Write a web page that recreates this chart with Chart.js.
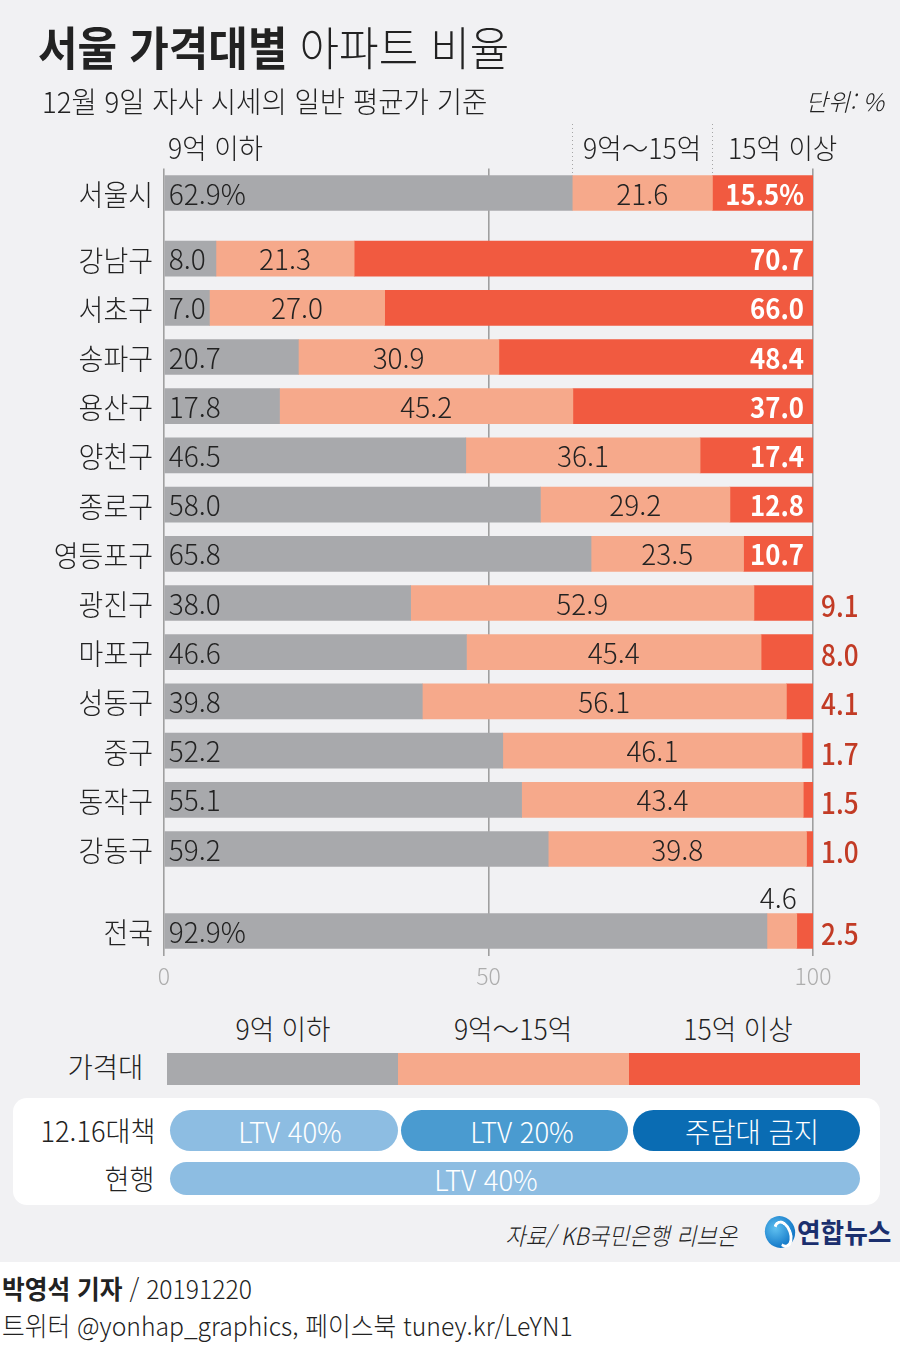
<!DOCTYPE html>
<html lang="ko">
<head>
<meta charset="utf-8">
<script src="https://cdn.jsdelivr.net/npm/chart.js@4.4.0/dist/chart.umd.min.js"></script>
<style>
  html, body { margin: 0; padding: 0; }
  body {
    width: 900px; height: 1356px; position: relative; overflow: hidden;
    background: #fff; color: #222;
    font-family: "Noto Sans CJK KR", "Noto Sans", sans-serif;
  }
  #panel { position: absolute; left: 0; top: 0; width: 900px; height: 1262px; background: #f1f1f3; }
  #chart { position: absolute; left: 0; top: 0; }
  .t { position: absolute; white-space: nowrap; line-height: 1; }
  .l { transform-origin: left center; transform: scaleX(0.95); }
  .r { transform-origin: right center; transform: scaleX(0.95); }
  .c { transform: translateX(-50%) scaleX(0.95); }
  .legend-bar { position: absolute; left: 167px; top: 1053px; width: 693px; height: 32px; display: flex; }
  .legend-bar div { flex: 1; }
  .box { position: absolute; left: 13px; top: 1098px; width: 867px; height: 107px; background: #fff; border-radius: 14px; }
  .pill { position: absolute; height: 41px; border-radius: 21px; }
  .pill-text { position: absolute; color: #fff; font-size: 28px; font-weight: 300; line-height: 1;
               white-space: nowrap; transform: translate(-50%, -50%) scaleX(0.98); }
  .logo { position: absolute; left: 765px; top: 1216px; width: 30px; height: 32px; border-radius: 50%;
          background: radial-gradient(circle at 40% 35%, #5fc0f0, #1479c8 70%); transform: rotate(-20deg); }
  .logo::after { content: ""; position: absolute; left: 8px; top: 5px; width: 12px; height: 22px;
          border: 3px solid #fff; border-radius: 50%; border-left-color: transparent; }
</style>
</head>
<body>
<div id="panel"></div>
<canvas id="chart" width="900" height="990"></canvas>

<div class="t l" style="left:38px; top:22px; font-size:46px; transform:scaleX(0.935);"><b style="font-weight:700;">서울 가격대별</b> <span style="font-weight:300;">아파트 비율</span></div>
<div class="t l" style="left:42px; top:86px; font-size:29px; font-weight:300;">12월 9일 자사 시세의 일반 평균가 기준</div>
<div class="t r" style="right:16px; top:89px; font-size:24px; font-weight:300; font-style:italic; transform:scaleX(1);">단위: %</div>

<div class="t l" style="left:168px; top:133px; font-size:28px; font-weight:300;">9억 이하</div>
<div class="t l" style="left:583px; top:133px; font-size:28px; font-weight:300;">9억～15억</div>
<div class="t l" style="left:728px; top:133px; font-size:28px; font-weight:300;">15억 이상</div>

<div class="t c" style="left:283px; top:1014px; font-size:28px; font-weight:300;">9억 이하</div>
<div class="t c" style="left:513px; top:1014px; font-size:28px; font-weight:300;">9억～15억</div>
<div class="t c" style="left:738px; top:1014px; font-size:28px; font-weight:300;">15억 이상</div>
<div class="t r" style="right:757px; top:1052px; font-size:28px; font-weight:300; transform:scaleX(0.98);">가격대</div>
<div class="legend-bar">
  <div style="background:#a8a9ac;"></div>
  <div style="background:#f6a98b;"></div>
  <div style="background:#f15a40;"></div>
</div>

<div class="box"></div>
<div class="t r" style="right:745px; top:1116px; font-size:28px; font-weight:300; transform:scaleX(0.97);">12.16대책</div>
<div class="t r" style="right:745px; top:1164px; font-size:28px; font-weight:300; transform:scaleX(0.97);">현행</div>
<div class="pill" style="left:170px; top:1110px; width:228px; background:#8dbde2;"></div>
<div class="pill" style="left:401px; top:1110px; width:227px; background:#4a9bd0;"></div>
<div class="pill" style="left:633px; top:1110px; width:227px; background:#0a6cb3;"></div>
<div class="pill" style="left:170px; top:1162px; width:690px; height:33px; border-radius:17px; background:#8dbde2;"></div>
<div class="pill-text" style="left:290px; top:1131px;">LTV 40%</div>
<div class="pill-text" style="left:522px; top:1131px;">LTV 20%</div>
<div class="pill-text" style="left:752px; top:1131px;">주담대 금지</div>
<div class="pill-text" style="left:486px; top:1179px;">LTV 40%</div>

<div class="t r" style="right:163px; top:1223px; font-size:24px; font-weight:300; font-style:italic; transform:scaleX(0.92);">자료/ KB국민은행 리브온</div>
<div class="logo"></div>
<div class="t l" style="left:797px; top:1218px; font-size:27px; font-weight:700; color:#1b2f6e;">연합뉴스</div>

<div class="t l" style="left:2px; top:1275px; font-size:26px; font-weight:300;"><b style="font-weight:700;">박영석 기자</b> / 20191220</div>
<div class="t l" style="left:2px; top:1312px; font-size:26px; font-weight:300;">트위터 @yonhap_graphics, 페이스북 tuney.kr/LeYN1</div>

<script>
// 가격대별 아파트 비율 (%)
const categories = ['서울시', '강남구', '서초구', '송파구', '용산구', '양천구', '종로구', '영등포구',
  '광진구', '마포구', '성동구', '중구', '동작구', '강동구', '전국'];
const under9 = [62.9, 8.0, 7.0, 20.7, 17.8, 46.5, 58.0, 65.8, 38.0, 46.6, 39.8, 52.2, 55.1, 59.2, 92.9];
const from9to15 = [21.6, 21.3, 27.0, 30.9, 45.2, 36.1, 29.2, 23.5, 52.9, 45.4, 56.1, 46.1, 43.4, 39.8, 4.6];
const over15 = [15.5, 70.7, 66.0, 48.4, 37.0, 17.4, 12.8, 10.7, 9.1, 8.0, 4.1, 1.7, 1.5, 1.0, 2.5];
const xTicks = [0, 50, 100];
const seriesNames = ['9억 이하', '9억~15억', '15억 이상'];

// labels that carry a % sign
const percentLabels = { '서울시': [0, 2], '전국': [0] };

// row layout: each row uses 3 slots; extra spacer slots before a few rows
const extraSlots = { 1: 1, 14: 2 };
const rowSlot = [];
let slot = 1;
categories.forEach((c, i) => {
  slot += extraSlots[i] || 0;
  rowSlot.push(slot);
  slot += 3;
});
const slotCount = rowSlot[rowSlot.length - 1] + 2;
const slotLabels = Array(slotCount).fill('');
rowSlot.forEach((s, i) => { slotLabels[s] = categories[i]; });

function toSlots(values) {
  const arr = Array(slotCount).fill(null);
  rowSlot.forEach((s, i) => { arr[s] = values[i]; });
  return arr;
}

const FONT = '"Noto Sans CJK KR", "Noto Sans", sans-serif';

function drawText(ctx, text, x, y, align, font, color, sx) {
  ctx.save();
  ctx.translate(x, y);
  ctx.scale(sx || 0.95, 1);
  ctx.font = font;
  ctx.fillStyle = color;
  ctx.textAlign = align;
  ctx.textBaseline = 'middle';
  ctx.fillText(text, 0, 0);
  ctx.restore();
}

// row names, segment values and the header dividers
const labelPlugin = {
  id: 'segmentLabels',
  afterDatasetsDraw(chart) {
    const ctx = chart.ctx;
    const metas = [0, 1, 2].map(i => chart.getDatasetMeta(i).data);
    categories.forEach((name, r) => {
      const s = rowSlot[r];
      const g = metas[0][s], m = metas[1][s], h = metas[2][s];
      const y = g.y + 1;
      const pct = percentLabels[name] || [];
      const fmt = (v, k) => v.toFixed(1) + (pct.includes(k) ? '%' : '');

      drawText(ctx, name, 153, y + 1, 'right', '300 29px ' + FONT, '#222', 0.93);

      drawText(ctx, fmt(under9[r], 0), g.base + 4, y, 'left', '300 28px ' + FONT, '#222', 1.0);

      if (r === categories.length - 1) {
        drawText(ctx, fmt(from9to15[r], 1), m.x, y - 34, 'right', '300 28px ' + FONT, '#222', 1.0);
      } else {
        drawText(ctx, fmt(from9to15[r], 1), (m.x + m.base) / 2, y, 'center', '300 28px ' + FONT, '#222', 1.0);
      }

      if (over15[r] >= 10) {
        drawText(ctx, fmt(over15[r], 2), h.x - 9, y, 'right', 'bold 28px ' + FONT, '#fff', 0.92);
      } else {
        drawText(ctx, fmt(over15[r], 2), h.x + 8, y + 2, 'left', '500 29px ' + FONT, '#c23b25', 0.9);
      }
    });

    // dotted dividers above the 서울시 bar
    const s0 = rowSlot[0];
    ctx.save();
    ctx.strokeStyle = '#a5a5a5';
    ctx.lineWidth = 1;
    ctx.setLineDash([1, 3]);
    [metas[0][s0].x, metas[1][s0].x].forEach(px => {
      const xx = Math.round(px) + 0.5;
      ctx.beginPath();
      ctx.moveTo(xx, 124);
      ctx.lineTo(xx, metas[0][s0].y - 18);
      ctx.stroke();
    });
    // dotted separator under the chart
    ctx.beginPath();
    ctx.moveTo(10, 998.5);
    ctx.lineTo(890, 998.5);
    ctx.stroke();
    ctx.restore();
  }
};

const ctx = document.getElementById('chart').getContext('2d');
new Chart(ctx, {
  type: 'bar',
  data: {
    labels: slotLabels,
    datasets: [
      { label: seriesNames[0], data: toSlots(under9), backgroundColor: '#a8a9ac' },
      { label: seriesNames[1], data: toSlots(from9to15), backgroundColor: '#f6a98b' },
      { label: seriesNames[2], data: toSlots(over15), backgroundColor: '#f15a40' }
    ]
  },
  options: {
    indexAxis: 'y',
    responsive: false,
    animation: false,
    devicePixelRatio: 1,
    layout: { padding: { left: 164, right: 87, top: 168.4, bottom: 0 } },
    datasets: { bar: { barThickness: 35, borderWidth: 0, skipNull: true } },
    plugins: { legend: { display: false }, tooltip: { enabled: false } },
    scales: {
      y: { type: 'category', display: false, stacked: true },
      x: {
        stacked: true,
        min: 0,
        max: 100,
        afterBuildTicks: scale => { scale.ticks = xTicks.map(v => ({ value: v })); },
        afterFit: scale => { scale.height = 34.4; },
        border: { display: false },
        grid: { color: '#9f9f9f', lineWidth: 1.6, drawTicks: false },
        ticks: { color: '#adadad', padding: 7, font: { family: FONT, size: 23, weight: '300' } }
      }
    }
  },
  plugins: [labelPlugin]
});
</script>
</body>
</html>
